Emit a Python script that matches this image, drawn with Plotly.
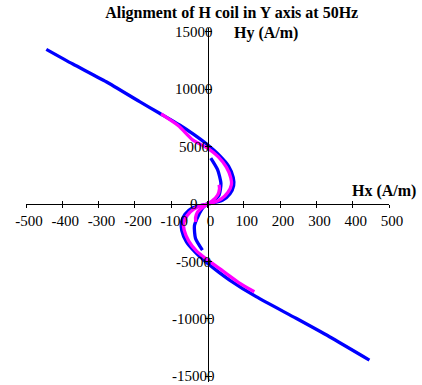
import plotly.graph_objects as go

# ---- data ----
x_ticks = [-500, -400, -300, -200, -100, 0, 100, 200, 300, 400, 500]
x_tick_labels = ["-500", "-400", "-300", "-200", "-100", "0", "100", "200", "300", "400", "500"]
y_ticks = [15000, 10000, 5000, 0, -5000, -10000, -15000]
y_tick_labels = ["15000", "10000", "5000", "0", "-5000", "-10000", "-15000"]

blue_outer_x = [-444, -371, -279, -187, -132, -77, -38, 0, 32, 58, 71, 72, 62, 42, 10,
                -10, -42, -62, -72, -71, -58, -32, 0, 30, 61, 134, 244, 336, 446]
blue_outer_y = [13450, 12170, 10635, 8900, 7890, 6870, 6050, 5150, 4250, 3300, 2300, 1600, 900, 350, 60,
                -60, -350, -900, -1600, -2300, -3300, -4250, -5150, -5900, -6610, -8060, -9940, -11540, -13570]

blue_inner_x = [9, 28, 37, 32, 14, 0, -12, -25, -36, -33, -14]
blue_inner_y = [3985, 2965, 1800, 785, 200, 0, -300, -1000, -1900, -3000, -4010]

magenta_outer_x = [-128, -80, -41, 0, 30, 52, 64, 66, 56, 38, 14,
                   -14, -38, -56, -66, -64, -52, -30, 0, 41, 87, 129]
magenta_outer_y = [7830, 6800, 5580, 4860, 4100, 3200, 2300, 1700, 1000, 450, 100,
                   -100, -450, -1000, -1700, -2300, -3200, -4100, -4860, -5800, -6850, -7630]

magenta_inner_x = [32, 33, 28, 14, 0, -14, -28, -33, -32]
magenta_inner_y = [1680, 1300, 785, 300, 0, -300, -720, -1200, -1560]

FONT = "Liberation Serif"
y_range = [-15479, 15305]
x_axis_pos = (0 - y_range[0]) / (y_range[1] - y_range[0])

fig = go.Figure()
line_w = 3.3
ln = lambda c: dict(color=c, width=line_w, shape="spline", smoothing=0.6)
fig.add_trace(go.Scatter(x=blue_outer_x, y=blue_outer_y, mode="lines",
                         line=ln("#0000FF"), showlegend=False))
fig.add_trace(go.Scatter(x=blue_inner_x, y=blue_inner_y, mode="lines",
                         line=ln("#0000FF"), showlegend=False))
fig.add_trace(go.Scatter(x=magenta_outer_x, y=magenta_outer_y, mode="lines",
                         line=ln("#FF00FF"), showlegend=False))
fig.add_trace(go.Scatter(x=magenta_inner_x, y=magenta_inner_y, mode="lines",
                         line=ln("#FF00FF"), showlegend=False))
# dummy trace so the overlay axes (inner half of cross ticks) are drawn
fig.add_trace(go.Scatter(x=[None], y=[None], xaxis="x2", yaxis="y2",
                         showlegend=False, hoverinfo="skip"))

common = dict(showgrid=False, zeroline=False, automargin=False)
fig.update_layout(
    width=422, height=385,
    margin=dict(l=26, r=33, t=28, b=3),
    paper_bgcolor="white", plot_bgcolor="white",
    font=dict(family=FONT, size=15, color="black"),
    title=dict(text="Alignment of H coil in Y axis at 50Hz",
               font=dict(family=FONT, size=16, color="black", weight="bold"),
               x=231.7 / 422, xanchor="center", xref="container",
               y=1 - 12.7 / 385, yanchor="middle", yref="container"),
    xaxis=dict(range=[-500, 500], tickmode="array", tickvals=x_ticks, ticktext=x_tick_labels,
               ticks="outside", ticklen=3, tickcolor="black", tickwidth=1,
               showline=True, linecolor="black", linewidth=1,
               anchor="free", position=x_axis_pos, ticklabelshift=3,
               tickfont=dict(family=FONT, size=15, color="black"), **common),
    yaxis=dict(range=y_range, tickmode="array", tickvals=y_ticks,
               ticks="outside", ticklen=3, tickcolor="black", tickwidth=1,
               showticklabels=False,
               showline=True, linecolor="black", linewidth=1,
               anchor="free", position=0.5, **common),
    xaxis2=dict(range=[-500, 500], overlaying="x", matches="x", tickmode="array", tickvals=x_ticks,
                ticks="inside", ticklen=3, tickcolor="black", showticklabels=False,
                showline=False, anchor="free", position=x_axis_pos, **common),
    yaxis2=dict(range=y_range, overlaying="y", matches="y", tickmode="array", tickvals=y_ticks,
                ticks="inside", ticklen=3, tickcolor="black", showticklabels=False,
                showline=False, anchor="free", position=0.5, **common),
)

# y tick labels, centred just left of the axis like the reference
for v, t in zip(y_ticks, y_tick_labels):
    fig.add_annotation(x=0, y=v, xref="x", yref="y", text=t, showarrow=False,
                       xanchor="center", yanchor="middle", xshift=-14,
                       font=dict(family=FONT, size=15, color="black"))

fig.add_annotation(text="Hy (A/m)", xref="paper", yref="paper",
                   x=(266.3 - 26) / 363, y=(382 - 33.3) / 354, showarrow=False,
                   xanchor="center", yanchor="middle",
                   font=dict(family=FONT, size=16, color="black", weight="bold"))
fig.add_annotation(text="Hx (A/m)", xref="paper", yref="paper",
                   x=(384.3 - 26) / 363, y=(382 - 191) / 354, showarrow=False,
                   xanchor="center", yanchor="middle",
                   font=dict(family=FONT, size=16, color="black", weight="bold"))

# remove the default 8px page margin so the 422x385 figure fills the window
fig.write_html("out.html", config={"displayModeBar": False},
               post_script="document.body.style.margin='0';")
